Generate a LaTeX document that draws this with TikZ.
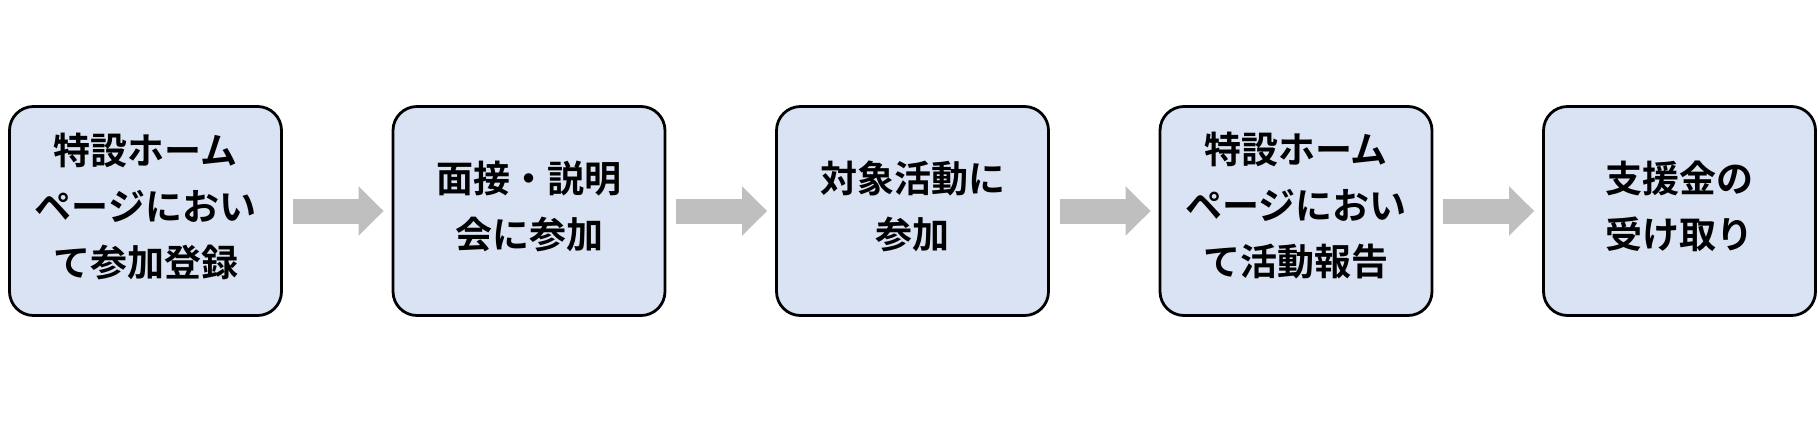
\documentclass[tikz,border=0pt]{standalone}
\usepackage{fontspec}
\newfontfamily\jpfont{Noto Sans CJK JP}[BoldFont={Noto Sans CJK JP Bold}]
\usetikzlibrary{arrows.meta}
\definecolor{boxblue}{HTML}{DAE3F3}
\definecolor{arrowgray}{HTML}{BFBFBF}
\begin{document}
\begin{tikzpicture}[x=0.5pt,y=0.5pt,
    stepbox/.style={draw=black,line width=1.4pt,fill=boxblue,rounded corners=12pt,
      minimum width=136pt,minimum height=104.5pt},
    steptext/.style={align=center,inner sep=0pt,
      font=\jpfont\bfseries\fontsize{18.5}{28}\selectfont},
    flow/.style={draw=arrowgray,line width=12.5pt,-{Triangle[length=12.5pt,width=24pt]},
      shorten <=5pt,shorten >=4pt}]
  \useasboundingbox(0,0)rectangle(1818,420);
  \foreach \i/\txt in {0/{特設ホーム\\ページにおい\\て参加登録},1/{面接・説明\\会に参加},2/{対象活動に\\参加},3/{特設ホーム\\ページにおい\\て活動報告},4/{支援金の\\受け取り}}{
    \node[stepbox] (b\i) at (145.5+383.5*\i,209) {};
    \node[steptext] (t\i) at ([yshift=2.5pt]b\i.center) {\txt};
  }
  \foreach \i in {0,...,3}{
    \pgfmathtruncatemacro{\j}{\i+1}
    \draw[flow] (b\i) -- (b\j);
  }
\end{tikzpicture}
\end{document}
